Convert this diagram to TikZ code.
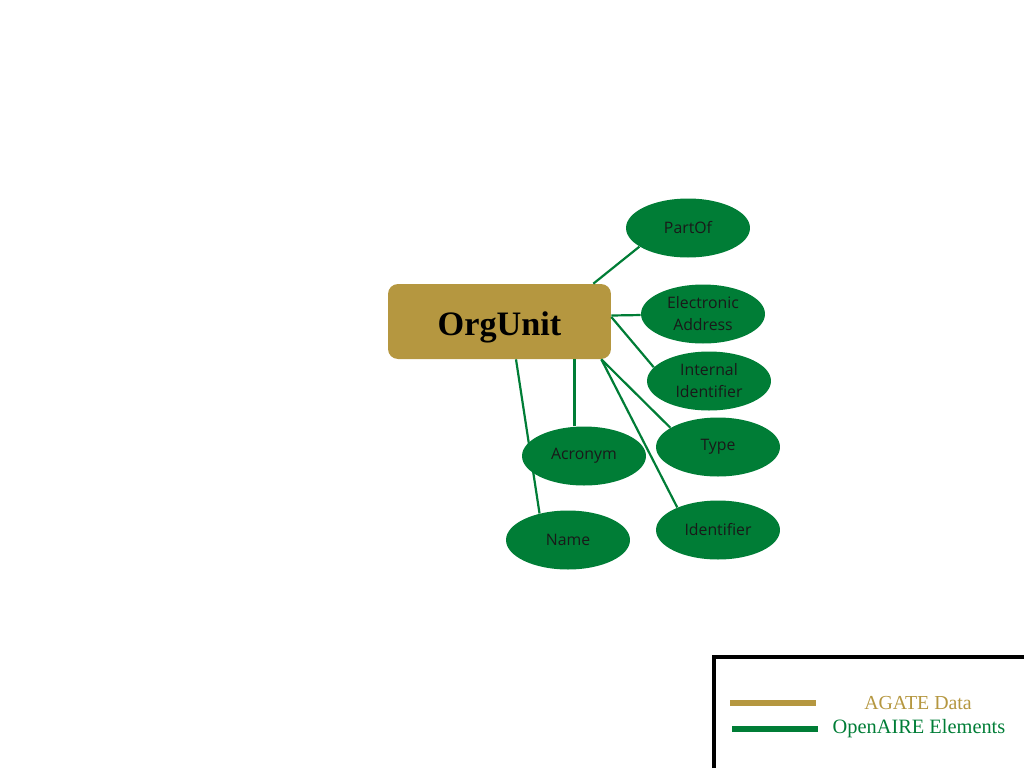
\documentclass[tikz,border=0pt]{standalone}
\usepackage{fontspec}
\setmainfont{Liberation Serif}
\newfontfamily\opensans{Open Sans}
\usetikzlibrary{shapes.geometric}
\definecolor{agategold}{RGB}{181,151,64}
\definecolor{oagreen}{RGB}{0,125,54}
\tikzset{
  orgbox/.style={draw=none,fill=agategold,rounded corners=0.2cm,minimum width=4.46cm,minimum height=1.5cm,text height=15.4pt,text depth=0pt,font=\fontsize{19.5}{22}\selectfont\bfseries},
  element/.style={ellipse,fill=oagreen,minimum width=2.48cm,minimum height=1.18cm,inner sep=0pt,align=center,text=black!90,font=\opensans\fontsize{9}{12.5}\selectfont},
  link/.style={oagreen,line width=1.25pt},
  keyline/.style={line width=3.4pt},
}
\begin{document}
\begin{tikzpicture}[x=0.02cm,y=-0.02cm]
            \useasboundingbox (0,0) rectangle (1024,768);
            \node[orgbox] (org) at (499.5,321.5) {OrgUnit};
            \node[element] (partof) at (688,228) {PartOf};
            \node[element] (eaddr) at (703,314) {Electronic\\Address};
            \node[element] (intid) at (709,381) {Internal\\Identifier};
            \node[element] (type) at (718,447) {Type};
            \node[element] (acr) at (584,456) {Acronym};
            \node[element] (ident) at (718,530) {Identifier};
            \node[element] (name) at (568,540) {Name};
            \coordinate (acrtop) at ([xshift=1.5cm]org.south);
            \draw[link] ([xshift=-0.36cm]org.north east) -- (partof.201);
            \draw[link] ([yshift=0.12cm]org.east) -- (eaddr);
            \draw[link] ([yshift=0.09cm]org.east) -- (intid.166);
            \draw[link] ([xshift=-0.2cm]org.south east) -- (type.158);
            \draw[link] ([xshift=-0.2cm]org.south east) -- (ident.151);
            \draw[link] (acrtop) -- (acrtop |- acr.north);
            \draw[link] ([xshift=0.33cm]org.south) -- (name.137);
            % legend
            \draw[line width=2.8pt] (714,768) -- (714,657) -- (1024,657);
            \coordinate (agatestart) at (730,703);
            \coordinate (oastart) at (732,729);
            \draw[keyline,agategold] (agatestart) -- ++(86,0);
            \draw[keyline,oagreen] (oastart) -- ++(86,0);
            \node[text=agategold,font=\fontsize{11.3}{13}\selectfont] (agate) at (918,703) {AGATE Data};
            \node[text=oagreen,font=\fontsize{11.6}{13}\selectfont] (openaire) at (919,729) {OpenAIRE Elements};
\end{tikzpicture}
\end{document}
